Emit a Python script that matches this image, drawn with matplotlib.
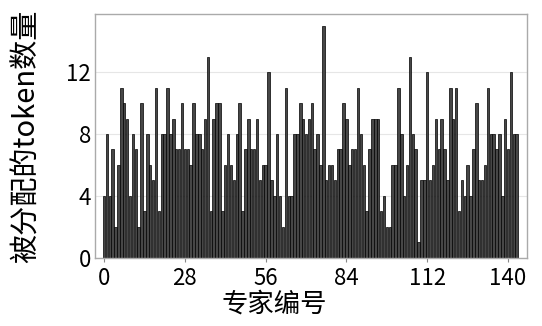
import numpy as np
import matplotlib
matplotlib.use('Agg')
import matplotlib.pyplot as plt

plt.rcParams['font.family'] = ['Noto Sans CJK SC', 'DejaVu Sans']

# 每个专家被分配到的 token 数
expert_ids = np.arange(144)
token_counts = [
    4, 8, 4, 7, 2, 6, 11, 10, 9, 4,
    8, 7, 2, 10, 3, 8, 6, 5, 11, 3,
    8, 8, 11, 8, 9, 7, 7, 10, 7, 7,
    6, 10, 8, 8, 7, 9, 13, 3, 9, 10,
    10, 3, 6, 8, 6, 5, 8, 10, 3, 7,
    9, 7, 7, 9, 5, 6, 6, 12, 5, 4,
    8, 4, 2, 11, 4, 4, 8, 8, 10, 9,
    8, 9, 10, 7, 8, 6, 15, 5, 6, 6,
    5, 7, 7, 10, 9, 6, 7, 7, 11, 8,
    6, 3, 7, 9, 9, 9, 3, 4, 2, 2,
    6, 6, 11, 8, 4, 6, 13, 8, 7, 1,
    5, 5, 12, 5, 6, 9, 7, 9, 7, 5,
    11, 9, 11, 3, 5, 4, 6, 4, 7, 10,
    5, 5, 6, 11, 8, 8, 7, 8, 4, 9,
    7, 12, 8, 8,
]
x_ticks = [0, 28, 56, 84, 112, 140]
y_ticks = [0, 4, 8, 12]

fig = plt.figure(figsize=(5.42, 3.26), dpi=100)
ax = fig.add_axes([0.176, 0.209, 0.796, 0.748])

ax.bar(expert_ids, token_counts, width=0.85, color='#474747',
       edgecolor='black', linewidth=0.5, zorder=2)

ax.set_xlim(-3.0, 146.5)
ax.set_xticks(x_ticks)
ax.set_yticks(y_ticks)
ax.tick_params(labelsize=16, length=3, color='#888888')
ax.tick_params(axis='y', length=0, pad=3)
ax.grid(axis='y', color='#e6e6e6', linewidth=0.8, zorder=0)
for s in ax.spines.values():
    s.set_color('#aaaaaa')
    s.set_linewidth(1.0)

ax.set_xlabel('专家编号', fontsize=19)
ax.set_ylabel('被分配的token数量', fontsize=21)
ax.xaxis.set_label_coords(0.415, -0.135)
ax.yaxis.set_label_coords(-0.125, 0.5)

fig.savefig('out.png', dpi=100)
